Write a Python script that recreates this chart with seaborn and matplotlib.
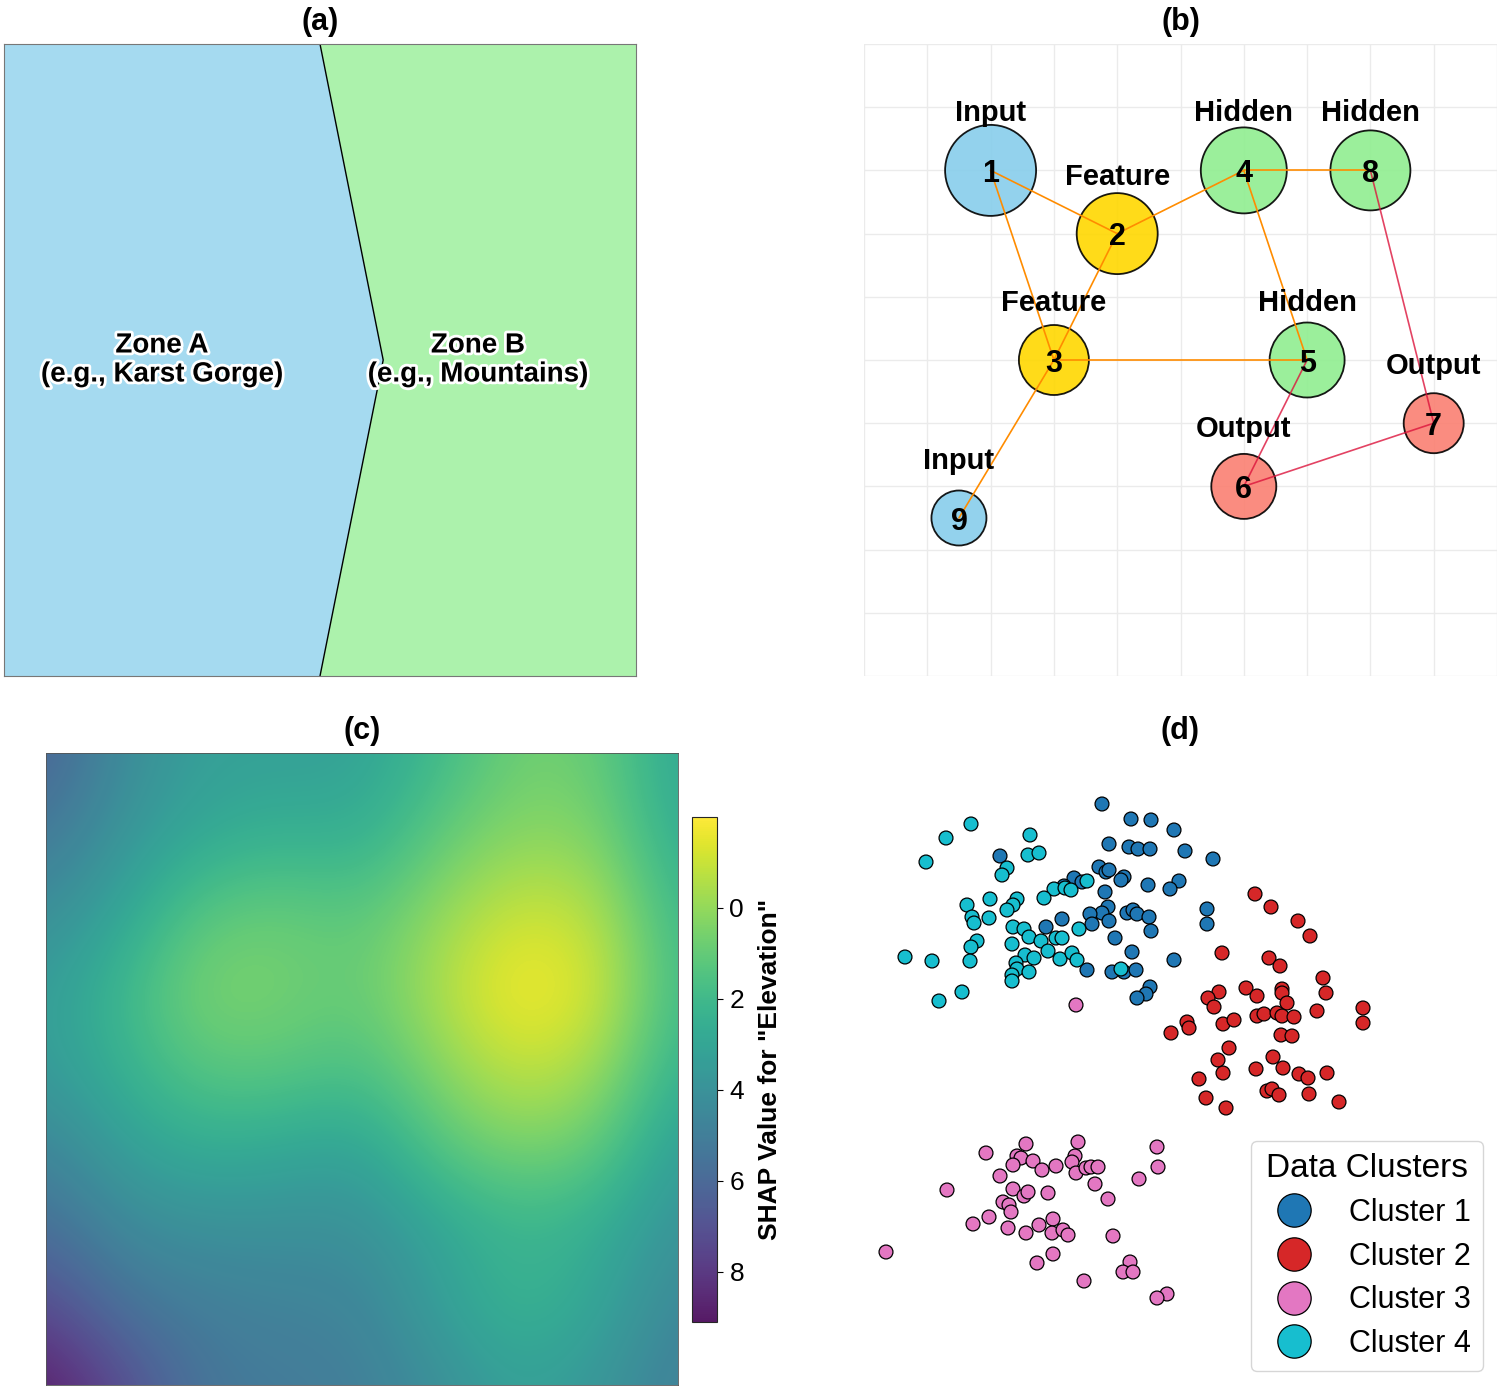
import numpy as np
import pandas as pd
import matplotlib
matplotlib.use("Agg")
import matplotlib.pyplot as plt
import matplotlib.patheffects as pe
from matplotlib.lines import Line2D
import seaborn as sns

# ---------------- (a) zone map ----------------
zone_names = ["Zone A\n(e.g., Karst Gorge)", "Zone B\n(e.g., Mountains)"]
zone_colors = ["skyblue", "lightgreen"]
zone_label_x = [0.25, 0.75]
zone_label_y = [0.5, 0.5]
boundary_x = [0.5, 0.6, 0.5]
boundary_y = [1.0, 0.5, 0.0]

# ---------------- (b) network ----------------
node_ids = [1, 2, 3, 4, 5, 6, 7, 8, 9]
node_x = [2, 4, 3, 6, 7, 6, 9, 8, 1.5]
node_y = [8, 7, 5, 8, 5, 3, 4, 8, 2.5]
node_role = ["Input", "Feature", "Feature", "Hidden", "Hidden",
             "Output", "Output", "Hidden", "Input"]
node_weight = [0.91, 0.81, 0.70, 0.86, 0.75, 0.65, 0.60, 0.80, 0.55]
edge_from = [1, 1, 2, 2, 3, 3, 4, 4, 8, 5, 6]
edge_to = [2, 3, 3, 4, 5, 9, 8, 5, 7, 6, 7]
role_colors = {"Input": "skyblue", "Feature": "gold",
               "Hidden": "lightgreen", "Output": "salmon"}

# ---------------- (c) SHAP surface (coarse grid, top row first) ----------------
shap_grid = [
    [6.3, 4.3, 3.3, 3.3, 3.2, 2.0, 0.7, 0.9, 3.0],
    [5.4, 3.8, 2.9, 2.5, 2.7, 1.1, 0.2, 0.4, 2.8],
    [4.3, 3.0, 1.2, 0.9, 1.3, 0.0, -1.1, -0.7, 2.2],
    [3.5, 2.0, 0.4, 0.6, 1.0, -0.6, -2.0, -1.3, 2.0],
    [3.6, 2.4, 1.2, 1.2, 1.7, 0.2, -1.0, -0.3, 2.5],
    [4.7, 3.3, 2.6, 2.9, 3.2, 1.3, 0.4, 1.0, 3.5],
    [5.8, 4.4, 4.1, 4.1, 4.1, 3.0, 2.2, 2.6, 4.0],
    [7.4, 5.5, 5.0, 4.8, 4.7, 3.3, 2.2, 3.0, 4.6],
    [9.1, 7.3, 5.4, 5.2, 5.0, 4.2, 3.2, 3.8, 5.0],
]
shap_ticks = [0, 2, 4, 6, 8]

# ---------------- (d) clusters ----------------
c1_x = [-7.8, -4.9, -2.9, -0.6, -7.1, -5.1, -4.2, -3.0, 0.5, 3.3, -8.1, -7.4, -7.1, -5.6,
        -5.9, -10.6, -9.8, -3.2, -0.1, -1.0, -7.5, -7.2, -7.8, -9.0, -8.8, -7.1, -11.8,
        -5.3, -4.7, -4.3, -3.1, -2.9, 2.7, 2.7, -6.5, -4.8, -0.6, -9.3, -6.8, -5.6, -4.4,
        -3.0, -3.4, -4.3, -18.0, -13.4, -11.6]
c1_y = [26.5, 25.0, 24.9, 23.9, 22.5, 22.2, 22.0, 22.0, 21.8, 21.0, 20.2, 19.7, 19.9, 19.2,
        18.9, 19.1, 18.7, 18.4, 18.8, 18.0, 17.7, 16.2, 15.6, 15.5, 14.5, 14.8, 15.0,
        15.6, 15.9, 15.5, 15.2, 13.8, 16.0, 14.5, 13.1, 11.7, 10.9, 9.9, 9.7, 9.7, 9.9,
        8.2, 7.5, 7.1, 21.3, 14.2, 18.3]
c2_x = [7.5, 9.1, 11.8, 13.0, 4.2, 8.9, 10.0, 14.3, 14.6, 6.6, 7.7, 10.2, 10.2, 10.7,
        3.9, 2.8, 3.4, 13.7, 18.3, 18.3, 7.7, 8.4, 9.7, 10.2, 11.4, 0.7, 0.9, 4.3, 5.4,
        -0.9, 10.1, 11.2, 4.9, 3.8, 4.3, 9.3, 10.3, 7.6, 11.9, 12.8, 14.7, 1.9, 2.6, 4.6,
        8.7, 9.2, 9.9, 12.9, 15.9]
c2_y = [17.5, 16.2, 14.8, 13.3, 11.6, 11.1, 10.3, 9.1, 7.6, 8.1, 7.3, 8.0, 7.6, 6.6,
        7.7, 7.1, 6.2, 5.8, 6.1, 4.6, 5.3, 5.5, 5.6, 5.3, 5.2, 4.7, 4.1, 4.5, 4.9,
        3.6, 3.4, 3.3, 2.1, 0.9, -0.4, 1.2, 0.1, 0.0, -0.5, -0.9, -0.4, -1.0, -2.9, -3.9,
        -2.2, -2.0, -2.6, -2.5, -3.3]
c3_x = [-19.4, -15.4, -16.3, -15.9, -16.7, -14.7, -13.8, -12.4, -10.2, -10.5, -10.8,
        -10.4, -9.4, -8.9, -8.2, -2.3, -2.2, -4.1, -8.5, -18.0, -16.7, -15.6, -15.2,
        -13.2, -7.2, -23.3, -17.7, -17.1, -16.9, -19.1, -20.7, -17.2, -15.4, -14.1,
        -12.7, -12.8, -11.7, -11.2, -6.7, -29.4, -12.7, -14.3, -5.0, -5.7, -4.7, -9.6,
        -1.3, -2.3, -10.4]
c3_y = [-8.4, -7.5, -8.7, -8.9, -9.6, -9.2, -10.1, -9.7, -7.3, -8.7, -9.3, -10.4, -9.9,
        -9.8, -9.8, -7.8, -9.8, -11.0, -11.5, -10.7, -12.0, -12.7, -12.3, -12.4, -13.0,
        -12.1, -13.3, -13.6, -14.3, -14.8, -15.5, -15.9, -16.4, -15.6, -15.0, -16.4,
        -16.1, -16.6, -16.7, -18.3, -18.5, -19.4, -19.3, -20.3, -20.3, -21.2, -22.5,
        -22.9, 6.4]
c4_x = [-20.9, -23.4, -25.4, -15.0, -15.2, -14.1, -17.3, -17.8, -12.6, -13.6, -19.0,
        -21.3, -16.3, -16.7, -17.3, -20.8, -20.6, -19.1, -16.7, -15.6, -15.1, -13.9,
        -12.4, -20.3, -20.9, -16.8, -13.2, -15.5, -14.6, -12.0, -27.5, -24.8, -21.0,
        -16.4, -16.3, -15.1, -16.8, -16.8, -21.8, -24.1, -11.5, -10.9, -9.3, -10.1,
        -10.8, -10.3, -5.9, -11.8]
c4_y = [24.5, 23.1, 20.7, 23.4, 21.4, 21.6, 20.1, 19.4, 18.0, 17.1, 17.0, 16.4, 17.0,
        16.4, 15.9, 15.2, 14.6, 15.1, 14.2, 14.0, 13.2, 12.8, 13.1, 12.8, 12.2, 12.5,
        11.8, 11.4, 11.1, 11.0, 11.2, 10.8, 10.8, 10.6, 10.0, 9.7, 9.4, 8.8, 7.7, 6.8,
        18.1, 17.9, 18.8, 14.0, 11.6, 10.9, 10.0, 13.1]
cluster_names = ["Cluster 1", "Cluster 2", "Cluster 3", "Cluster 4"]
cluster_colors = ["#1f77b4", "#d62728", "#e377c2", "#17becf"]

# ---------------- style ----------------
sns.set_theme(style="white")
plt.rcParams["font.family"] = ["Liberation Sans", "DejaVu Sans"]
plt.rcParams["text.color"] = "black"
plt.rcParams["axes.labelcolor"] = "black"
plt.rcParams["xtick.color"] = "black"
plt.rcParams["ytick.color"] = "black"

fig = plt.figure(figsize=(15, 13.89), dpi=100)
W, H = 1500, 1389


def add_ax(x0, y0, x1, y1):
    return fig.add_axes([x0 / W, 1 - y1 / H, (x1 - x0) / W, (y1 - y0) / H])


title_kw = dict(fontsize=22, fontweight="bold", pad=10)

# (a) 区域划分
ax_a = add_ax(4, 44, 636, 676)
poly_a = [(0, 1)] + list(zip(boundary_x, boundary_y)) + [(0, 0)]
poly_b = list(zip(boundary_x, boundary_y)) + [(1, 0), (1, 1)]
for poly, col in zip([poly_a, poly_b], zone_colors):
    ax_a.fill([p[0] for p in poly], [p[1] for p in poly], color=col, alpha=0.75, lw=0)
ax_a.plot(boundary_x, boundary_y, color="black", lw=1)
for name, tx, ty in zip(zone_names, zone_label_x, zone_label_y):
    ax_a.text(tx, ty, name, ha="center", va="center", fontsize=20, fontweight="bold",
              linespacing=1.15,
              path_effects=[pe.withStroke(linewidth=4, foreground="white")])
ax_a.set_xlim(0, 1)
ax_a.set_ylim(0, 1)
ax_a.set_xticks([])
ax_a.set_yticks([])
for sp in ax_a.spines.values():
    sp.set_color("#777777")
    sp.set_linewidth(0.8)
ax_a.set_title("(a)", **title_kw)

# (b) 网络结构
ax_b = add_ax(864, 44, 1497, 676)
ax_b.set_xlim(0, 10)
ax_b.set_ylim(0, 10)
ax_b.set_xticks(range(11))
ax_b.set_yticks(range(11))
ax_b.tick_params(length=0, labelbottom=False, labelleft=False)
ax_b.grid(True, color="#ebebeb", lw=1)
for sp in ax_b.spines.values():
    sp.set_visible(False)
pos = {n: (x, y) for n, x, y in zip(node_ids, node_x, node_y)}
role_of = dict(zip(node_ids, node_role))
px_per_pt = 100 / 72
sizes = [(w * 100 / px_per_pt) ** 2 for w in node_weight]
ax_b.scatter(node_x, node_y, s=sizes, c=[role_colors[r] for r in node_role],
             alpha=0.9, edgecolors="black", linewidths=1.3, zorder=2)
for a, b in zip(edge_from, edge_to):
    out_edge = role_of[a] == "Output" or role_of[b] == "Output"
    ax_b.plot([pos[a][0], pos[b][0]], [pos[a][1], pos[b][1]],
              color="crimson" if out_edge else "darkorange",
              alpha=0.8 if out_edge else 1.0, lw=1.2, zorder=3)
for n, x, y, r in zip(node_ids, node_x, node_y, node_role):
    ax_b.text(x, y, str(n), ha="center", va="center_baseline", fontsize=22,
              fontweight="bold", zorder=4)
    ax_b.text(x, y + 0.95, r, ha="center", va="center_baseline", fontsize=21,
              fontweight="bold", zorder=4)
ax_b.set_title("(b)", **title_kw)

# (c) SHAP 热图
ax_c = add_ax(46, 753, 678, 1385)
grid = np.array(shap_grid)
half = 0.5 / (grid.shape[0] - 1)
im = ax_c.imshow(grid, cmap="viridis_r", vmin=-2.0, vmax=9.1, alpha=0.9,
                 interpolation="bicubic", aspect="auto",
                 extent=(-half, 1 + half, 1 + half, -half))
ax_c.set_xlim(0, 1)
ax_c.set_ylim(1, 0)
ax_c.set_xticks([])
ax_c.set_yticks([])
for sp in ax_c.spines.values():
    sp.set_linewidth(0.6)
    sp.set_color("#555555")
ax_c.set_title("(c)", **title_kw)
cax = add_ax(692, 817, 717, 1322)
cb = fig.colorbar(im, cax=cax)
cb.ax.invert_yaxis()
cb.set_ticks(shap_ticks)
cb.ax.tick_params(labelsize=19, length=4, width=0.8, pad=5)
cb.outline.set_linewidth(0.8)
cb.set_label('SHAP Value for "Elevation"', fontsize=19, fontweight="bold", labelpad=10)

# (d) 聚类散点
ax_d = add_ax(864, 753, 1497, 1385)
df = pd.DataFrame({
    "x": c1_x + c2_x + c3_x + c4_x,
    "y": c1_y + c2_y + c3_y + c4_y,
    "cluster": [cluster_names[0]] * len(c1_x) + [cluster_names[1]] * len(c2_x)
    + [cluster_names[2]] * len(c3_x) + [cluster_names[3]] * len(c4_x),
})
sns.scatterplot(data=df, x="x", y="y", hue="cluster", hue_order=cluster_names,
                palette=cluster_colors, s=100, edgecolor="black", linewidth=0.9,
                legend=False, ax=ax_d)
ax_d.set_xlim(-31.6, 31.7)
ax_d.set_ylim(-31.6, 31.6)
ax_d.set_xticks([])
ax_d.set_yticks([])
ax_d.set_xlabel("")
ax_d.set_ylabel("")
for sp in ax_d.spines.values():
    sp.set_visible(False)
handles = [Line2D([0], [0], marker="o", ls="", markersize=24, markerfacecolor=c,
                  markeredgecolor="black", markeredgewidth=0.9) for c in cluster_colors]
leg = ax_d.legend(handles, cluster_names, title="Data Clusters", loc="lower right",
                  fontsize=22, title_fontsize=24, labelspacing=0.45, frameon=True,
                  fancybox=True, borderaxespad=0.45)
leg.get_frame().set_edgecolor("#cccccc")
ax_d.set_title("(d)", **title_kw)

fig.savefig("out.png", dpi=100)
